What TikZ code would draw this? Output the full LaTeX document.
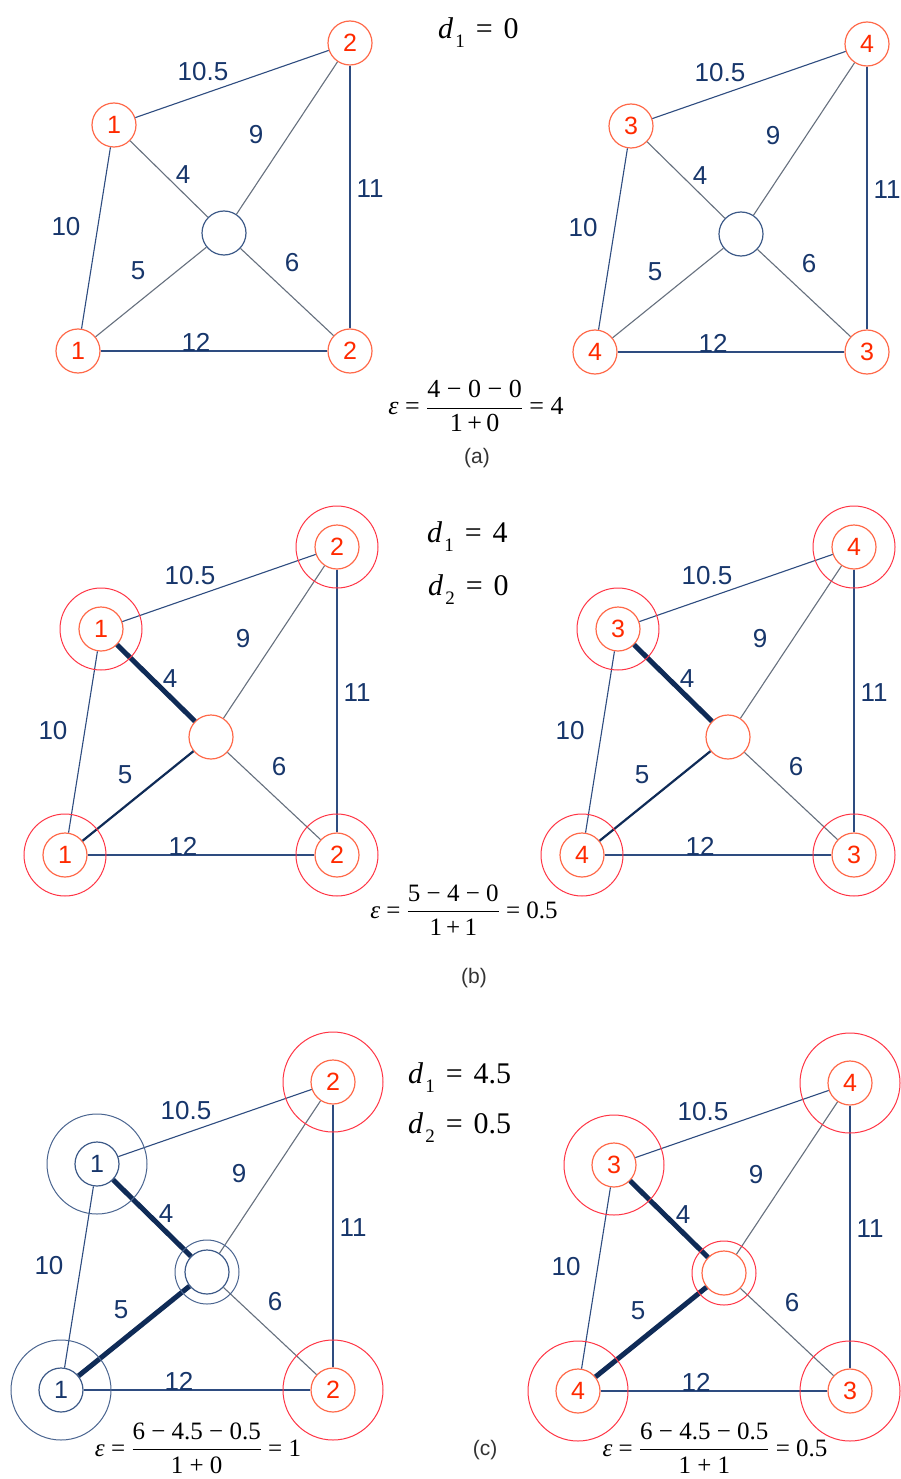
\documentclass[tikz,border=0pt]{standalone}
\usepackage{fontspec}
\usepackage{amsmath}
\setmainfont{Liberation Serif}
\newfontfamily\lsans{Liberation Sans}
\definecolor{edgeblue}{HTML}{2E4C80}
\definecolor{edgegray}{HTML}{66707E}
\definecolor{nodered}{HTML}{FF6A4A}
\definecolor{digitred}{HTML}{FF2A00}
\definecolor{halored}{HTML}{FF3545}
\definecolor{labelnavy}{HTML}{17366B}
\definecolor{nodenavy}{HTML}{3D5A88}
\definecolor{halonavy}{HTML}{4A6590}
\definecolor{thickblue}{HTML}{0F2B57}
\definecolor{capgray}{HTML}{333333}
\newcommand\frc[2]{$\dfrac{\text{#1}}{\text{#2}}$}
\newcommand\dsub[2]{\textit{d}\kern2pt\raisebox{-9pt}{\fontsize{19}{19}\selectfont #1}\hspace{11pt}=\hspace{11pt}#2}
\tikzset{
  vtx/.style={circle, draw=nodered, fill=white, line width=1.2pt, minimum size=44pt,
    inner sep=0pt, font=\lsans\fontsize{25}{30}\selectfont, text=digitred},
  bvtx/.style={vtx, draw=nodenavy, text=labelnavy},
  nA/.style={vtx}, nB/.style={vtx}, nC/.style={vtx}, nD/.style={vtx},
  nO/.style={vtx, draw=nodenavy},
  halo/.style={circle, draw=halored, line width=1pt, minimum size=#1, inner sep=0pt},
  bhalo/.style={halo=#1, draw=halonavy},
  eb/.style={draw=edgeblue, line width=1.1pt},
  eg/.style={draw=edgegray, line width=1.1pt},
  ethick/.style={draw=thickblue, line width=5pt},
  emed/.style={draw=thickblue, line width=2.2pt},
  e4/.style={eg}, e5/.style={eg},
  elab/.style={font=\lsans\fontsize{26}{30}\selectfont, text=labelnavy, inner sep=0pt},
  mth/.style={font=\fontsize{26}{30}\selectfont, inner sep=0pt},
  mths/.style={font=\fontsize{25}{30}\selectfont, inner sep=0pt},
  dlab/.style={font=\fontsize{30}{34}\selectfont, inner sep=0pt, anchor=base west},
  captxt/.style={font=\lsans\fontsize{21}{25}\selectfont, text=capgray, inner sep=0pt}
}
\newcommand\drawgraph[4]{%
  \node[nA] (A) at (114,125) {#1};
  \node[nB] (B) at (350,43) {#2};
  \node[nC] (C) at (78,351) {#3};
  \node[nD] (D) at (350,351) {#4};
  \node[nO] (O) at (224,233) {};
  \draw[eb] (A) -- (B);
  \draw[eb] (A) -- (C);
  \draw[e4] (A) -- (O);
  \draw[eg] (B) -- (O);
  \draw[eb] (B) -- (D);
  \draw[e5] (C) -- (O);
  \draw[eg] (O) -- (D);
  \draw[eb] (C) -- (D);
  \node[elab] (l105) at (203,72) {10.5};
  \node[elab] (l9) at (256,135) {9};
  \node[elab] (l4) at (183,175) {4};
  \node[elab] (l11) at (370,189) {11};
  \node[elab] (l10) at (66,227) {10};
  \node[elab] (l5) at (138,271) {5};
  \node[elab] (l6) at (292,263) {6};
  \node[elab] (l12) at (196,342) {12};
}
\begin{document}
\begin{tikzpicture}[x=1pt,y=-1pt]
\useasboundingbox[fill=white] (0,0) rectangle (900,1479);
% ---------- (a)
\begin{scope}[shift={(0,0)}, name prefix=aL-]
  \drawgraph{1}{2}{1}{2}
\end{scope}
\begin{scope}[shift={(517,1)}, name prefix=aR-]
  \drawgraph{3}{4}{4}{3}
\end{scope}
\node[dlab] (da1) at (438,39) {\dsub{1}{0}};
\node[mth] (fa) at (476,406) {\textit{ε} = \frc{4 − 0 − 0}{1\,+\,0} = 4};
\node[captxt] (capa) at (477,458) {(a)};
% ---------- (b)
\begin{scope}[shift={(-13,504)}, name prefix=bL-, nO/.style={vtx}, e4/.style={ethick}, e5/.style={emed}]
  \drawgraph{1}{2}{1}{2}
  \node[halo=82pt] (Ah) at (A) {};
  \node[halo=82pt] (Bh) at (B) {};
  \node[halo=82pt] (Ch) at (C) {};
  \node[halo=82pt] (Dh) at (D) {};
\end{scope}
\begin{scope}[shift={(504,504)}, name prefix=bR-, nO/.style={vtx}, e4/.style={ethick}, e5/.style={emed}]
  \drawgraph{3}{4}{4}{3}
  \node[halo=82pt] (Ah) at (A) {};
  \node[halo=82pt] (Bh) at (B) {};
  \node[halo=82pt] (Ch) at (C) {};
  \node[halo=82pt] (Dh) at (D) {};
\end{scope}
\node[dlab] (db1) at (427,542) {\dsub{1}{4}};
\node[dlab] (db2) at (428,595) {\dsub{2}{0}};
\node[mths] (fb) at (464,910) {\textit{ε} = \frc{5 − 4 − 0}{1\,+\,1} = 0.5};
\node[captxt] (capb) at (474,978) {(b)};
% ---------- (c)
\begin{scope}[shift={(-17,1039)}, name prefix=cL-, nA/.style={bvtx}, nC/.style={bvtx}, e4/.style={ethick}, e5/.style={ethick}]
  \drawgraph{1}{2}{1}{2}
  \node[bhalo=100pt] (Ah) at (A) {};
  \node[halo=100pt] (Bh) at (B) {};
  \node[bhalo=100pt] (Ch) at (C) {};
  \node[halo=100pt] (Dh) at (D) {};
  \node[bhalo=64pt] (Oh) at (O) {};
\end{scope}
\begin{scope}[shift={(500,1040)}, name prefix=cR-, nO/.style={vtx}, e4/.style={ethick}, e5/.style={ethick}]
  \drawgraph{3}{4}{4}{3}
  \node[halo=100pt] (Ah) at (A) {};
  \node[halo=100pt] (Bh) at (B) {};
  \node[halo=100pt] (Ch) at (C) {};
  \node[halo=100pt] (Dh) at (D) {};
  \node[halo=64pt] (Oh) at (O) {};
\end{scope}
\node[dlab] (dc1) at (408,1083) {\dsub{1}{4.5}};
\node[dlab] (dc2) at (408,1133) {\dsub{2}{0.5}};
\node[mths] (fc1) at (198,1448) {\textit{ε} = \frc{6 − 4.5 − 0.5}{1 + 0} = 1};
\node[mths] (fc2) at (715,1448) {\textit{ε} = \frc{6 − 4.5 − 0.5}{1 + 1} = 0.5};
\node[captxt] (capc) at (485,1450) {(c)};
\end{tikzpicture}
\end{document}
